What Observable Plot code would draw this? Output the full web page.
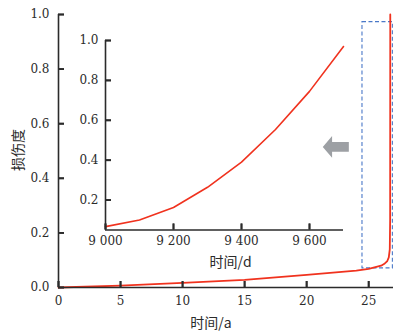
<!DOCTYPE html>
<html>
<head>
<meta charset="utf-8">
<script src="https://cdn.jsdelivr.net/npm/d3@7"></script>
<script src="https://cdn.jsdelivr.net/npm/@observablehq/plot@0.6"></script>
<style>
  html, body { margin: 0; padding: 0; background: #fff; }
</style>
</head>
<body>
<div id="wrap"></div>
<script>
// ---- data ----
const mainYears = [0, 5, 10, 15, 20, 24, 25, 26, 26.3, 26.5, 26.62, 26.7, 26.73, 26.74];
const mainDamage = [0, 0.007, 0.017, 0.028, 0.046, 0.062, 0.068, 0.08, 0.088, 0.097, 0.11, 0.14, 0.25, 1.0];
const insetDays = [9000, 9100, 9200, 9300, 9400, 9500, 9600, 9700];
const insetDamage = [0.067, 0.1, 0.163, 0.264, 0.39, 0.554, 0.745, 0.97];
const mainXTicks = [0, 5, 10, 15, 20, 25];
const mainYTicks = [0, 0.2, 0.4, 0.6, 0.8, 1.0];
const insetXTicks = [9000, 9200, 9400, 9600];
const insetYTicks = [0.2, 0.4, 0.6, 0.8, 1.0];
const mainXDomain = [0, 27];
const mainYDomain = [0, 1];
const insetXDomain = [9000, 9700];
const insetYDomain = [0.05, 1.0];
const zoomBoxX = [24.5, 26.95];
const zoomBoxY = [0.07, 0.972];
const arrowX = [21.3, 22.05, 23.4];   // tip, head base, tail
const arrowY = 0.515;
const arrowHalf = [0.04, 0.018];      // head half-height, shaft half-height
const labels = {y: "损伤度", x: "时间/a", xInset: "时间/d"};

const red = "#f0321e";
const axisColor = "#2b2b2b";
const numFont = "DejaVu Serif";
const cjkFont = "Noto Sans CJK SC";
const tickLen = 6;

const mainData = mainYears.map((t, i) => ({t, d: mainDamage[i]}));
const insetData = insetDays.map((t, i) => ({t, d: insetDamage[i]}));
const arrowShape = [
  {x: arrowX[0], y: arrowY},
  {x: arrowX[1], y: arrowY + arrowHalf[0]},
  {x: arrowX[1], y: arrowY + arrowHalf[1]},
  {x: arrowX[2], y: arrowY + arrowHalf[1]},
  {x: arrowX[2], y: arrowY - arrowHalf[1]},
  {x: arrowX[1], y: arrowY - arrowHalf[1]},
  {x: arrowX[1], y: arrowY - arrowHalf[0]},
  {x: arrowX[0], y: arrowY}
];
const spaceFmt = d => d3.format(",")(d).replace(",", " ");
const blank = () => "";
const W = 394, H = 334;
const M = {l: 58, r: 1, t: 14, b: 47};
const I = {l: 105, r: 51, t: 40, b: 104.5};

// inward tick marks: short rules (length converted from pixels to data units)
// plus axis ticks shifted back inside the frame
function inwardTicks(xTicks, yTicks, xDom, yDom, m) {
  const fw = W - m.l - m.r, fh = H - m.t - m.b;
  const dx = tickLen * (xDom[1] - xDom[0]) / fw;
  const dy = tickLen * (yDom[1] - yDom[0]) / fh;
  return [
    Plot.ruleX(xTicks, {x: d => d, y1: yDom[0], y2: yDom[0] + dy, stroke: axisColor, strokeWidth: 1.8}),
    Plot.ruleY(yTicks, {y: d => d, x1: xDom[0], x2: xDom[0] + dx, stroke: axisColor, strokeWidth: 1.8}),
    Plot.axisX({ticks: xTicks, tickSize: tickLen, dy: -tickLen, tickFormat: blank, label: null,
      stroke: axisColor, strokeWidth: 1.8}),
    Plot.axisY({ticks: yTicks, tickSize: tickLen, dx: tickLen, tickFormat: blank, label: null,
      stroke: axisColor, strokeWidth: 1.8})
  ];
}

const main = Plot.plot({
  width: W, height: H,
  marginLeft: M.l, marginRight: M.r, marginTop: M.t, marginBottom: M.b,
  style: {fontSize: "12px", fontFamily: numFont},
  x: {domain: mainXDomain},
  y: {domain: mainYDomain},
  marks: [
    Plot.line(arrowShape, {x: "x", y: "y", fill: "#9da0a4", stroke: "none"}),
    Plot.rect([0], {x1: zoomBoxX[0], x2: zoomBoxX[1], y1: zoomBoxY[0], y2: zoomBoxY[1],
      fill: "none", stroke: "#4a78c8", strokeWidth: 1.1, strokeDasharray: "4,2.5"}),
    Plot.line(mainData, {x: "t", y: "d", stroke: red, strokeWidth: 1.8}),
    Plot.ruleX([mainXDomain[0]], {stroke: axisColor, strokeWidth: 1.6}),
    Plot.ruleY([mainYDomain[0]], {stroke: axisColor, strokeWidth: 1.6}),
    ...inwardTicks(mainXTicks, mainYTicks, mainXDomain, mainYDomain, M),
    Plot.axisX({ticks: mainXTicks, tickSize: 0, tickPadding: 9, tickFormat: d3.format("d"),
      label: null, fill: axisColor, fontFamily: numFont}),
    Plot.axisY({ticks: mainYTicks, tickSize: 0, tickPadding: 9, tickFormat: d3.format(".1f"),
      label: null, fill: axisColor, fontFamily: numFont}),
    Plot.text([labels.y], {frameAnchor: "left", rotate: -90, dx: -40, dy: 20, text: d => d,
      fontSize: 14, fill: axisColor, fontFamily: cjkFont}),
    Plot.text([labels.x], {frameAnchor: "bottom", dy: 40, dx: -15, text: d => d,
      fontSize: 14, fill: axisColor, fontFamily: cjkFont})
  ]
});

const inset = Plot.plot({
  width: W, height: H,
  marginLeft: I.l, marginRight: I.r, marginTop: I.t, marginBottom: I.b,
  style: {fontSize: "12px", fontFamily: numFont, background: "none"},
  x: {domain: insetXDomain},
  y: {domain: insetYDomain},
  marks: [
    Plot.line(insetData, {x: "t", y: "d", stroke: red, strokeWidth: 1.6}),
    Plot.ruleX([insetXDomain[0]], {stroke: axisColor, strokeWidth: 1.6}),
    Plot.ruleY([insetYDomain[0]], {stroke: axisColor, strokeWidth: 1.6}),
    ...inwardTicks(insetXTicks, insetYTicks, insetXDomain, insetYDomain, I),
    Plot.axisX({ticks: insetXTicks, tickSize: 0, tickPadding: 6, tickFormat: spaceFmt,
      label: null, fill: axisColor, fontFamily: numFont}),
    Plot.axisY({ticks: insetYTicks, tickSize: 0, tickPadding: 7, tickFormat: d3.format(".1f"),
      label: null, fill: axisColor, fontFamily: numFont}),
    Plot.text([labels.xInset], {frameAnchor: "bottom", dy: 37, dx: 6, text: d => d,
      fontSize: 14, fill: axisColor, fontFamily: cjkFont})
  ]
});

// nest the inset SVG inside the main SVG
inset.setAttribute("x", 0);
inset.setAttribute("y", 0);
inset.style.background = "none";
main.appendChild(inset);
document.getElementById("wrap").appendChild(main);
</script>
</body>
</html>
